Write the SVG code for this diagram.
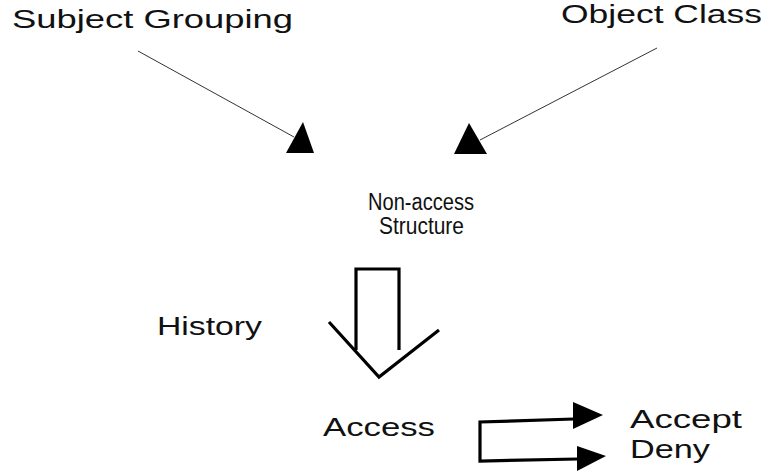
<svg xmlns="http://www.w3.org/2000/svg" width="769" height="475" viewBox="0 0 769 475">
  <style>
    .lbl { font-family: "Liberation Sans", Arial, sans-serif; font-size: 25px; fill: #111; }
    .sm { font-family: "Liberation Sans", Arial, sans-serif; font-size: 23px; fill: #111; }
    .thin { stroke: #333; stroke-width: 1; fill: none; }
    .bold { stroke: #000; stroke-width: 3.2; fill: none; stroke-linejoin: miter; }
    .head { fill: #000; stroke: none; }
  </style>
  <rect width="769" height="475" fill="#fff"/>

  <g id="subject-grouping">
    <text class="lbl" x="12" y="28" textLength="281" lengthAdjust="spacingAndGlyphs">Subject Grouping</text>
  </g>
  <g id="object-class">
    <text class="lbl" x="561" y="23" textLength="201" lengthAdjust="spacingAndGlyphs">Object Class</text>
  </g>
  <g id="non-access-structure">
    <text class="sm" x="368" y="210" textLength="106" lengthAdjust="spacingAndGlyphs">Non-access</text>
    <text class="sm" x="379" y="234" textLength="85" lengthAdjust="spacingAndGlyphs">Structure</text>
  </g>
  <g id="history">
    <text class="lbl" x="157" y="335" textLength="105" lengthAdjust="spacingAndGlyphs">History</text>
  </g>
  <g id="access">
    <text class="lbl" x="323" y="436" textLength="112" lengthAdjust="spacingAndGlyphs">Access</text>
  </g>
  <g id="accept">
    <text class="lbl" x="630" y="428" textLength="112" lengthAdjust="spacingAndGlyphs">Accept</text>
  </g>
  <g id="deny">
    <text class="lbl" x="630" y="458" textLength="80" lengthAdjust="spacingAndGlyphs">Deny</text>
  </g>

  <g id="connectors">
    <!-- inputs into the non-access structure -->
    <line class="thin" x1="138" y1="51" x2="294" y2="137"/>
    <polygon class="head" points="303,122 286,153 314,153"/>
    <line class="thin" x1="657" y1="48" x2="480" y2="140"/>
    <polygon class="head" points="469,123 454,154 487,154"/>

    <!-- hollow block arrow: structure to access -->
    <path class="bold" d="M356,350 V269 H399 V350"/>
    <path class="bold" d="M329,322 L379,377 L439,330"/>

    <!-- access outcomes -->
    <path class="bold" d="M574,419 L480,422 V461 L578,459"/>
    <polygon class="head" points="573,402 603,415 573,429"/>
    <polygon class="head" points="577,446 606,456 577,471"/>
  </g>
</svg>
